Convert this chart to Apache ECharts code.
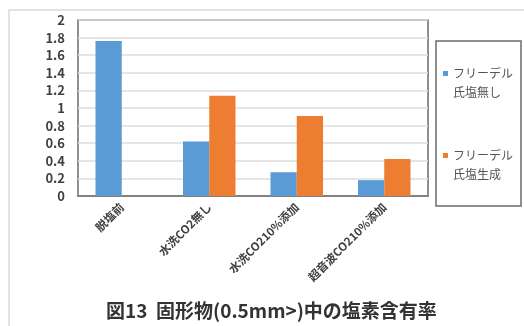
<!DOCTYPE html>
<html>
<head>
<meta charset="utf-8">
<script src="https://cdn.jsdelivr.net/npm/echarts@6/dist/echarts.min.js"></script>
<style>
  html, body { margin: 0; padding: 0; background: #ffffff; }
  #chart { width: 524px; height: 326px; }
</style>
</head>
<body>
<div id="chart"></div>
<script>
// 試料ごとの塩素含有率 (%)
var categories = ['脱塩前', '水洗CO2無し', '水洗CO210%添加', '超音波CO210%添加'];
var seriesNames = ['フリーデル氏塩無し', 'フリーデル氏塩生成'];
var legendLabels = ['フリーデル\n氏塩無し', 'フリーデル\n氏塩生成'];
var freeSalt = [1.76, 0.62, 0.27, 0.18];
var withSalt = [null, 1.14, 0.91, 0.42];
var yTicks = [0, 0.2, 0.4, 0.6, 0.8, 1, 1.2, 1.4, 1.6, 1.8, 2];
var titleText = '図13  固形物(0.5mm>)中の塩素含有率';

var FONT = '"Noto Sans CJK JP", "Noto Sans", sans-serif';
var TEXT = '#404040';

var chart = echarts.init(document.getElementById('chart'));
chart.setOption({
  animation: false,
  color: ['#5B9BD5', '#ED7D31'],
  grid: {
    left: 78, top: 20, right: 96, bottom: 130,
    show: true, borderColor: '#6b6b6b', borderWidth: 1.5,
    containLabel: false
  },
  graphic: [
    { type: 'rect', shape: { x: 9, y: 10, width: 530, height: 330 },
      style: { fill: 'none', stroke: '#d9d9d9', lineWidth: 1.5 }, silent: true },
    { type: 'rect', shape: { x: 436, y: 41, width: 85, height: 165 },
      style: { fill: '#ffffff', stroke: '#6b6b6b', lineWidth: 1.5 }, z: 1, silent: true },
    { type: 'text', left: 106, top: 301,
      style: { text: titleText, font: 'bold 19px ' + FONT, fill: '#333333' }, silent: true }
  ],
  legend: {
    orient: 'vertical',
    left: 438, top: 40,
    itemWidth: 5, itemHeight: 5,
    itemGap: 25,
    icon: 'rect',
    data: seriesNames,
    // a blank first line keeps the marker level with the first text line
    formatter: function (name) { return ' \n' + legendLabels[seriesNames.indexOf(name)]; },
    textStyle: {
      fontFamily: FONT, fontSize: 12, color: '#555555', lineHeight: 19
    },
    z: 5
  },
  xAxis: {
    type: 'category',
    data: categories,
    axisLine: { show: true, lineStyle: { color: '#6b6b6b', width: 1.5 } },
    axisTick: { show: false },
    axisLabel: {
      rotate: 45, interval: 0, margin: 9,
      fontFamily: FONT, fontSize: 11.5, fontWeight: 'bold', color: TEXT
    }
  },
  yAxis: {
    type: 'value',
    min: yTicks[0], max: yTicks[yTicks.length - 1], interval: 0.2,
    axisLine: { show: false },
    axisTick: { show: false },
    splitLine: { lineStyle: { color: '#dcdcdc', width: 1.5 } },
    axisLabel: {
      margin: 13,
      fontFamily: FONT, fontSize: 13, fontWeight: 'bold', color: TEXT,
      formatter: function (v) { return String(Math.round(v * 10) / 10); }
    }
  },
  series: [
    { name: seriesNames[0], type: 'bar', data: freeSalt,
      barGap: '0%', barCategoryGap: '40%' },
    { name: seriesNames[1], type: 'bar', data: withSalt,
      barGap: '0%', barCategoryGap: '40%' }
  ]
});
</script>
</body>
</html>
